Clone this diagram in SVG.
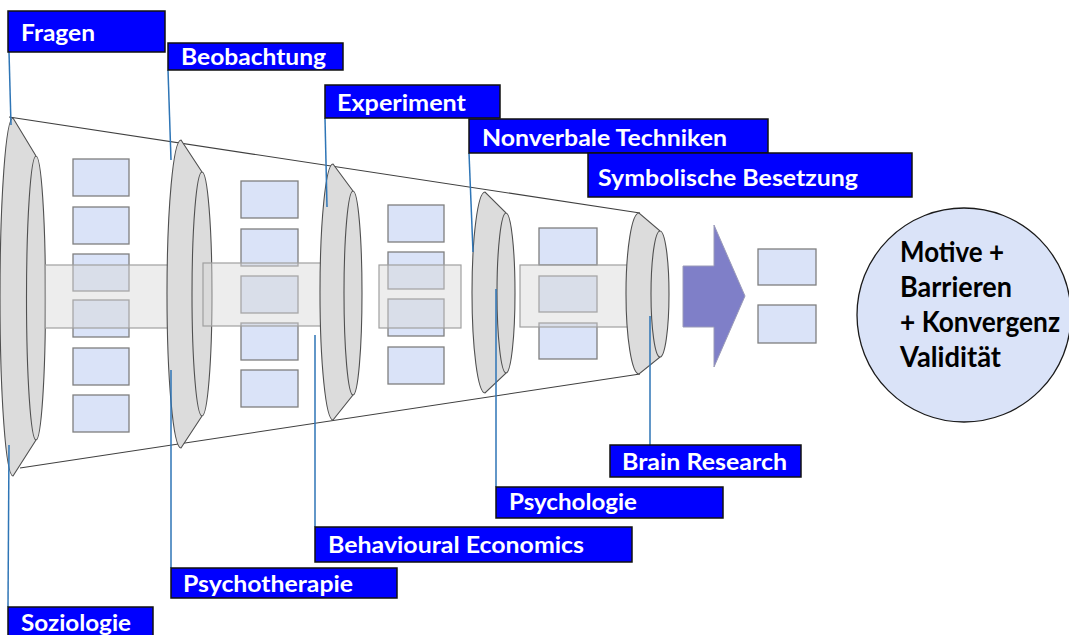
<svg xmlns="http://www.w3.org/2000/svg" width="1069" height="635" viewBox="0 0 1069 635">
  <style>
    .funnel { fill: none; stroke: #404040; stroke-width: 1.1; }
    .disc { fill: #dcdcdc; stroke: #505050; stroke-width: 1.1; }
    .rim { fill: none; stroke: #505050; stroke-width: 1.1; }
    .item { fill: #dae3f8; stroke: #7f7f7f; stroke-width: 1.3; }
    .band { fill: #d6d6d6; fill-opacity: 0.45; stroke: #a0a0a0; stroke-width: 1.2; }
    .tag rect { fill: #0000ff; stroke: #111111; stroke-width: 1.5; }
    .tag text { fill: #ffffff; font-family: Lato, "Open Sans", sans-serif; font-weight: 700; font-size: 22px; }
    .link { stroke: #2e75b6; stroke-width: 1.5; fill: none; }
    .goal text { fill: #000000; font-family: Lato, "Open Sans", sans-serif; font-weight: 700; font-size: 28px; }
  </style>

  <!-- funnel outline -->
  <g id="funnel">
    <line class="funnel" x1="9" y1="117" x2="640" y2="213"/>
    <line class="funnel" x1="20" y1="468" x2="640" y2="374"/>
  </g>

  <!-- stage 1 -->
  <g id="disc1">
    <path class="disc" d="M13,118 A13,179 0 0 0 13,476 L36,440 A9.5,142 0 0 0 36,156 Z"/>
    <path class="rim" d="M36,156 A9.5,142 0 0 0 36,440"/>
  </g>
  <g id="items1">
    <rect class="item" x="73" y="159" width="56" height="37"/>
    <rect class="item" x="73" y="207" width="56" height="37"/>
    <rect class="item" x="73" y="254" width="56" height="37"/>
    <rect class="item" x="73" y="300" width="56" height="37"/>
    <rect class="item" x="73" y="348" width="56" height="37"/>
    <rect class="item" x="73" y="395" width="56" height="37"/>
  </g>
  <rect id="band1" class="band" x="45" y="265" width="130" height="63"/>

  <!-- stage 2 -->
  <g id="disc2">
    <path class="disc" d="M181,140 A14,154 0 0 0 181,448 L202,416 A10,122 0 0 0 202,172 Z"/>
    <path class="rim" d="M202,172 A10,122 0 0 0 202,416"/>
  </g>
  <g id="items2">
    <rect class="item" x="241" y="181" width="57" height="37"/>
    <rect class="item" x="241" y="229" width="57" height="37"/>
    <rect class="item" x="241" y="276" width="57" height="37"/>
    <rect class="item" x="241" y="323" width="57" height="37"/>
    <rect class="item" x="241" y="370" width="57" height="37"/>
  </g>
  <rect id="band2" class="band" x="203" y="263" width="127" height="63"/>

  <!-- stage 3 -->
  <g id="disc3">
    <path class="disc" d="M333,164 A13,128 0 0 0 333,420 L353,395 A9,102 0 0 0 353,191 Z"/>
    <path class="rim" d="M353,191 A9,102 0 0 0 353,395"/>
  </g>
  <g id="items3">
    <rect class="item" x="388" y="205" width="56" height="37"/>
    <rect class="item" x="388" y="252" width="56" height="37"/>
    <rect class="item" x="388" y="299" width="56" height="37"/>
    <rect class="item" x="388" y="347" width="56" height="37"/>
  </g>
  <rect id="band3" class="band" x="379" y="265" width="82" height="63"/>

  <!-- stage 4 -->
  <g id="disc4">
    <path class="disc" d="M485,192 A13,100.5 0 0 0 485,393 L506,373 A9,80 0 0 0 506,213 Z"/>
    <path class="rim" d="M506,213 A9,80 0 0 0 506,373"/>
  </g>
  <g id="items4">
    <rect class="item" x="539" y="228" width="58" height="37"/>
    <rect class="item" x="539" y="276" width="58" height="36"/>
    <rect class="item" x="539" y="323" width="58" height="36"/>
  </g>
  <rect id="band4" class="band" x="520" y="265" width="115" height="62"/>

  <!-- stage 5 -->
  <g id="disc5">
    <path class="disc" d="M639,213 A13,80.5 0 0 0 639,374 L660,357 A9,63 0 0 0 660,231 Z"/>
    <path class="rim" d="M660,231 A9,63 0 0 0 660,357"/>
  </g>

  <!-- result arrow -->
  <g id="arrow">
    <polygon points="683,266 714,266 714,225 745,296 714,367 714,327 683,327" fill="#7f7fc8" stroke="#9a9ab8" stroke-width="1"/>
  </g>
  <g id="items5">
    <rect class="item" x="758" y="249" width="58" height="36"/>
    <rect class="item" x="758" y="305" width="58" height="38"/>
  </g>

  <!-- outcome -->
  <g id="goal" class="goal">
    <circle cx="964" cy="315" r="107" fill="#dae3f8" stroke="#1a1a1a" stroke-width="1.3"/>
    <text x="900" y="262" textLength="104" lengthAdjust="spacingAndGlyphs">Motive +</text>
    <text x="900" y="297" textLength="112" lengthAdjust="spacingAndGlyphs">Barrieren</text>
    <text x="900" y="332" textLength="160" lengthAdjust="spacingAndGlyphs">+ Konvergenz</text>
    <text x="900" y="367" textLength="101" lengthAdjust="spacingAndGlyphs">Validität</text>
  </g>

  <!-- leader lines from tags to stages -->
  <g id="connectors">
    <line class="link" x1="9" y1="52" x2="11" y2="125"/>
    <line class="link" x1="168" y1="70" x2="171" y2="160"/>
    <line class="link" x1="325" y1="118" x2="327" y2="207"/>
    <line class="link" x1="469" y1="153" x2="473" y2="252"/>
    <line class="link" x1="9" y1="445" x2="8" y2="607"/>
    <line class="link" x1="171" y1="370" x2="171" y2="568"/>
    <line class="link" x1="315" y1="335" x2="315" y2="527"/>
    <line class="link" x1="496" y1="289" x2="496" y2="487"/>
    <line class="link" x1="650" y1="316" x2="650" y2="445"/>
  </g>

  <!-- tags -->
  <g id="tag-fragen" class="tag">
    <rect x="8" y="11" width="157" height="41"/>
    <text x="21" y="41" textLength="74" lengthAdjust="spacingAndGlyphs">Fragen</text>
  </g>
  <g id="tag-beobachtung" class="tag">
    <rect x="168" y="43" width="175" height="27"/>
    <text x="181" y="65" textLength="145" lengthAdjust="spacingAndGlyphs">Beobachtung</text>
  </g>
  <g id="tag-experiment" class="tag">
    <rect x="325" y="85" width="175" height="33"/>
    <text x="337" y="111" textLength="129" lengthAdjust="spacingAndGlyphs">Experiment</text>
  </g>
  <g id="tag-nonverbal" class="tag">
    <rect x="469" y="119" width="299" height="34"/>
    <text x="482" y="146" textLength="245" lengthAdjust="spacingAndGlyphs">Nonverbale Techniken</text>
  </g>
  <g id="tag-symbolisch" class="tag">
    <rect x="588" y="153" width="324" height="44"/>
    <text x="598" y="186" textLength="260" lengthAdjust="spacingAndGlyphs">Symbolische Besetzung</text>
  </g>
  <g id="tag-brain" class="tag">
    <rect x="610" y="445" width="191" height="32"/>
    <text x="622" y="470" textLength="165" lengthAdjust="spacingAndGlyphs">Brain Research</text>
  </g>
  <g id="tag-psychologie" class="tag">
    <rect x="496" y="487" width="227" height="31"/>
    <text x="509" y="510" textLength="128" lengthAdjust="spacingAndGlyphs">Psychologie</text>
  </g>
  <g id="tag-behavioural" class="tag">
    <rect x="315" y="527" width="317" height="35"/>
    <text x="328" y="553" textLength="256" lengthAdjust="spacingAndGlyphs">Behavioural Economics</text>
  </g>
  <g id="tag-psychotherapie" class="tag">
    <rect x="171" y="568" width="226" height="30"/>
    <text x="183" y="592" textLength="170" lengthAdjust="spacingAndGlyphs">Psychotherapie</text>
  </g>
  <g id="tag-soziologie" class="tag">
    <rect x="8" y="607" width="145" height="34"/>
    <text x="21" y="631" textLength="110" lengthAdjust="spacingAndGlyphs">Soziologie</text>
  </g>
</svg>
